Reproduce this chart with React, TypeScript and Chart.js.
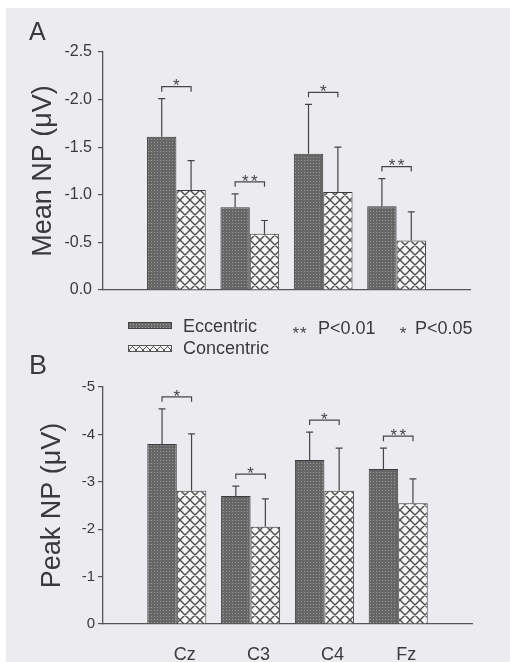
import React, { useEffect, useRef } from 'react';
import { Chart, registerables } from 'chart.js';

Chart.register(...registerables);

// ---------- data ----------
const categories = ['Cz', 'C3', 'C4', 'Fz'];

const meanEccentric = [-1.61, -0.87, -1.43, -0.88];
const meanConcentric = [-1.05, -0.59, -1.03, -0.52];
const meanEccentricSD = [0.40, 0.14, 0.52, 0.29];
const meanConcentricSD = [0.31, 0.14, 0.47, 0.30];
const meanSig = ['*', '**', '*', '**'];

const peakEccentric = [-3.80, -2.70, -3.46, -3.27];
const peakConcentric = [-2.81, -2.05, -2.81, -2.55];
const peakEccentricSD = [0.74, 0.21, 0.59, 0.44];
const peakConcentricSD = [1.20, 0.59, 0.90, 0.51];
const peakSig = ['*', '*', '*', '**'];

const seriesNames = ['Eccentric', 'Concentric'];
const sigLegend = [['**', 'P<0.01'], ['*', 'P<0.05']];

const FONT = '"Liberation Sans", Arial, Helvetica, sans-serif';
const TEXT = '#3a3a3a';
const AXIS = '#555555';
const BG = '#ecebf0';

function makeEccPattern(ctx: CanvasRenderingContext2D) {
  const c = document.createElement('canvas');
  c.width = 3;
  c.height = 3;
  const g = c.getContext('2d')!;
  g.fillStyle = '#666666';
  g.fillRect(0, 0, 3, 3);
  g.fillStyle = '#9a9a9a';
  g.fillRect(1, 1, 1, 1);
  return ctx.createPattern(c, 'repeat')!;
}

function makeConcPattern(ctx: CanvasRenderingContext2D) {
  const s = 10;
  const c = document.createElement('canvas');
  c.width = s;
  c.height = s;
  const g = c.getContext('2d')!;
  g.fillStyle = '#f6f6f6';
  g.fillRect(0, 0, s, s);
  g.strokeStyle = '#4e4e4e';
  g.lineWidth = 1.4;
  g.beginPath();
  for (const dx of [-s, 0, s]) {
    g.moveTo(dx, 0);
    g.lineTo(dx + s, s);
    g.moveTo(dx + s, 0);
    g.lineTo(dx, s);
  }
  g.stroke();
  return ctx.createPattern(c, 'repeat')!;
}

const STAR_SIZE = 17;

const errSigPlugin = {
  id: 'errSig',
  afterDatasetsDraw(chart: any, _args: any, opts: any) {
    const { ctx } = chart;
    const yScale = chart.scales.y;
    const sds: number[][] = opts.sds;
    const sig: string[] = opts.sig;
    const metas = [chart.getDatasetMeta(0), chart.getDatasetMeta(1)];
    ctx.save();
    ctx.strokeStyle = '#454545';
    ctx.lineWidth = 1.2;
    for (let k = 0; k < categories.length; k++) {
      const idx = k + 1;
      const tops: number[] = [];
      const xs: number[] = [];
      for (let d = 0; d < 2; d++) {
        const v = chart.data.datasets[d].data[idx] as number;
        const bar = metas[d].data[idx];
        const end = v - sds[d][k];
        const yv = yScale.getPixelForValue(v);
        const ye = yScale.getPixelForValue(end);
        ctx.beginPath();
        ctx.moveTo(bar.x, yv);
        ctx.lineTo(bar.x, ye);
        ctx.moveTo(bar.x - 3.5, ye);
        ctx.lineTo(bar.x + 3.5, ye);
        ctx.stroke();
        tops.push(ye);
        xs.push(bar.x);
      }
      const yb = Math.min(tops[0], tops[1]) - 12;
      ctx.beginPath();
      ctx.moveTo(xs[0], yb + 5);
      ctx.lineTo(xs[0], yb);
      ctx.lineTo(xs[1], yb);
      ctx.lineTo(xs[1], yb + 5);
      ctx.stroke();
      const cx = (xs[0] + xs[1]) / 2;
      const n = sig[k].length;
      ctx.fillStyle = '#454545';
      ctx.font = `${STAR_SIZE}px ${FONT}`;
      ctx.textAlign = 'center';
      ctx.textBaseline = 'alphabetic';
      for (let j = 0; j < n; j++) {
        const sx = cx + (j - (n - 1) / 2) * 9;
        ctx.fillText('*', sx, yb - 5 + 0.575 * STAR_SIZE);
      }
    }
    ctx.restore();
  },
};

interface PanelCfg {
  ecc: number[];
  conc: number[];
  eccSD: number[];
  concSD: number[];
  sig: string[];
  min: number;
  step: number;
  decimals: number;
  title: string;
  tickSize: number;
  tickPad: number;
  padLeft: number;
  padRight: number;
  padTop: number;
  padBottom: number;
  yWidth: number;
  xHeight: number;
  showX: boolean;
}

function buildChart(canvas: HTMLCanvasElement, cfg: PanelCfg) {
  const ctx = canvas.getContext('2d')!;
  const labels = ['', ...categories, ''];
  const pad = (arr: number[]) => [null, ...arr, null];
  const noPad = (s: any) => {
    s.paddingTop = 0;
    s.paddingBottom = 0;
    s.paddingLeft = 0;
    s.paddingRight = 0;
  };
  return new Chart(ctx, {
    type: 'bar',
    data: {
      labels,
      datasets: [
        {
          label: seriesNames[0],
          data: pad(cfg.ecc) as any,
          backgroundColor: makeEccPattern(ctx) as any,
          borderColor: '#3c3c3c',
          borderWidth: 1,
          categoryPercentage: 0.8,
          barPercentage: 1.0,
        },
        {
          label: seriesNames[1],
          data: pad(cfg.conc) as any,
          backgroundColor: makeConcPattern(ctx) as any,
          borderColor: '#3c3c3c',
          borderWidth: 1,
          categoryPercentage: 0.8,
          barPercentage: 1.0,
        },
      ],
    },
    options: {
      animation: false,
      responsive: false,
      maintainAspectRatio: false,
      layout: {
        padding: { left: cfg.padLeft, right: cfg.padRight, top: cfg.padTop, bottom: cfg.padBottom },
      },
      plugins: {
        legend: { display: false },
        tooltip: { enabled: false },
        // @ts-ignore
        errSig: { sds: [cfg.eccSD, cfg.concSD], sig: cfg.sig },
      },
      scales: {
        x: {
          type: 'category',
          offset: false,
          grid: { display: false, drawTicks: false },
          border: { display: true, color: AXIS, width: 1.3 },
          ticks: {
            display: cfg.showX,
            autoSkip: false,
            maxRotation: 0,
            padding: 20,
            labelOffset: 8,
            color: TEXT,
            font: { family: FONT, size: 18 },
          },
          afterFit: (s: any) => {
            s.height = cfg.xHeight;
            noPad(s);
          },
        },
        y: {
          type: 'linear',
          reverse: true,
          min: cfg.min,
          max: 0,
          ticks: {
            stepSize: cfg.step,
            padding: cfg.tickPad,
            color: TEXT,
            font: { family: FONT, size: cfg.tickSize },
            callback: (v: any) => {
              const n = Number(v);
              if (Math.abs(n) < 1e-9) return (0).toFixed(cfg.decimals);
              return n.toFixed(cfg.decimals);
            },
          },
          grid: { drawOnChartArea: false, drawTicks: true, tickLength: 5, color: AXIS, lineWidth: 1.2 },
          border: { display: true, color: AXIS, width: 1.3 },
          title: {
            display: true,
            text: cfg.title,
            color: TEXT,
            padding: 0,
            font: { family: FONT, size: 27 },
          },
          afterFit: (s: any) => {
            s.width = cfg.yWidth;
            noPad(s);
          },
        },
      },
    },
    plugins: [errSigPlugin as any],
  });
}

export default function App() {
  const refA = useRef<HTMLCanvasElement>(null);
  const refB = useRef<HTMLCanvasElement>(null);

  useEffect(() => {
    const a = buildChart(refA.current!, {
      ecc: meanEccentric,
      conc: meanConcentric,
      eccSD: meanEccentricSD,
      concSD: meanConcentricSD,
      sig: meanSig,
      min: -2.5,
      step: 0.5,
      decimals: 1,
      title: 'Mean NP (\u03bcV)',
      tickSize: 16,
      tickPad: 6,
      padLeft: 27,
      padRight: 40,
      padTop: 52,
      padBottom: 10,
      yWidth: 76,
      xHeight: 0,
      showX: false,
    });
    const b = buildChart(refB.current!, {
      ecc: peakEccentric,
      conc: peakConcentric,
      eccSD: peakEccentricSD,
      concSD: peakConcentricSD,
      sig: peakSig,
      min: -5,
      step: 1,
      decimals: 0,
      title: 'Peak NP (\u03bcV)',
      tickSize: 15,
      tickPad: 3,
      padLeft: 36,
      padRight: 38,
      padTop: 87,
      padBottom: 0,
      yWidth: 67,
      xHeight: 38,
      showX: true,
    });
    return () => {
      a.destroy();
      b.destroy();
    };
  }, []);

  const text = (s: string, left: number, cy: number, size: number, extra: any = {}) => (
    <div
      style={{
        position: 'absolute',
        left,
        top: cy - size / 2,
        fontFamily: FONT,
        fontSize: size,
        lineHeight: `${size}px`,
        color: TEXT,
        whiteSpace: 'nowrap',
        ...extra,
      }}
    >
      {s}
    </div>
  );

  const star = (s: string, cx: number, cy: number) => (
    <div
      style={{
        position: 'absolute',
        left: cx - 20,
        width: 40,
        textAlign: 'center',
        top: cy - 0.27 * STAR_SIZE,
        fontFamily: FONT,
        fontSize: STAR_SIZE,
        lineHeight: `${STAR_SIZE}px`,
        color: '#454545',
        letterSpacing: s.length > 1 ? 1 : 0,
      }}
    >
      {s}
    </div>
  );

  return (
    <div style={{ position: 'absolute', left: 0, top: 0, width: 510, height: 662, background: '#ffffff', overflow: 'hidden' }}>
      <div style={{ position: 'absolute', left: 6, top: 8, width: 504, height: 654, background: BG }} />
      <canvas ref={refA} width={510} height={300} style={{ position: 'absolute', left: 0, top: 0, width: 510, height: 300 }} />
      <canvas ref={refB} width={510} height={362} style={{ position: 'absolute', left: 0, top: 300, width: 510, height: 362 }} />
      {text('A', 29, 31, 25)}
      {text('B', 29, 365, 27)}
      <div style={{ position: 'absolute', left: 128, top: 322, width: 42, height: 5, border: '1px solid #444', background: '#6a6a6a', backgroundImage: 'radial-gradient(#a0a0a0 0.7px, transparent 0.9px)', backgroundSize: '3px 3px' }} />
      <div style={{ position: 'absolute', left: 128, top: 345, width: 42, height: 5, border: '1px solid #555', background: '#f4f4f4', backgroundImage: 'repeating-linear-gradient(45deg, #555 0 1px, transparent 1px 5px), repeating-linear-gradient(-45deg, #555 0 1px, transparent 1px 5px)' }} />
      {text(seriesNames[0], 183, 326, 18)}
      {text(seriesNames[1], 183, 348, 18)}
      {star(sigLegend[0][0], 300, 330)}
      {text(sigLegend[0][1], 318, 328, 18)}
      {star(sigLegend[1][0], 403, 330)}
      {text(sigLegend[1][1], 415, 328, 18)}
    </div>
  );
}
